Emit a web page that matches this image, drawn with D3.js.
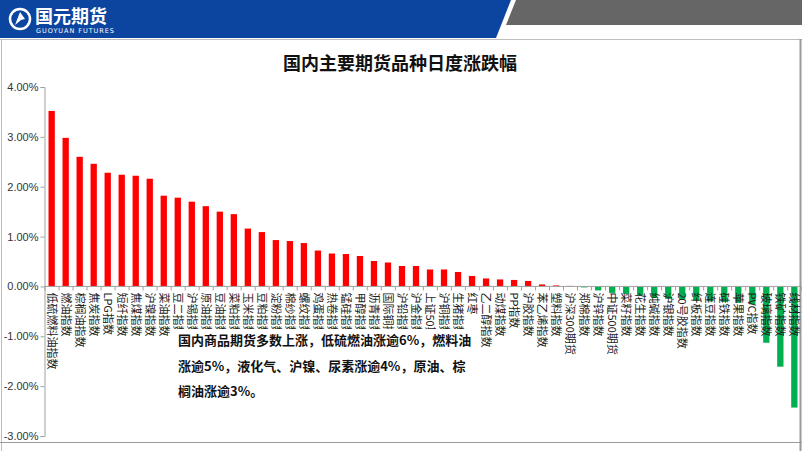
<!DOCTYPE html>
<html><head><meta charset="utf-8">
<script src="https://cdn.jsdelivr.net/npm/d3@7"></script>
<style>body{margin:0;background:#fff;}svg{display:block;}</style>
</head><body>
<script>
const categories = ["低硫燃料油指数","燃油指数","棕榈油指数","焦炭指数","LPG指数","短纤指数","焦煤指数","沪镍指数","菜油指数","豆二指数","沪锡指数","原油指数","豆油指数","菜粕指数","玉米指数","豆粕指数","淀粉指数","棉纱指数","螺纹指数","鸡蛋指数","热卷指数","锰硅指数","甲醇指数","沥青指数","国际铜指数","沪铅指数","沪金指数","上证50期货","沪铜指数","生猪指数","红枣","乙二醇指数","动煤指数","PP指数","沪胶指数","苯乙烯指数","塑料指数","沪深300期货","郑棉指数","沪锌指数","中证500期货","菜籽指数","花生指数","纯碱指数","沪银指数","20号胶指数","纤板指数","连豆指数","硅铁指数","苹果指数","PVC指数","玻璃指数","铁矿指数","线材指数"];
const values = [3.52,2.98,2.60,2.46,2.28,2.24,2.22,2.16,1.82,1.78,1.70,1.61,1.50,1.45,1.16,1.09,0.93,0.91,0.87,0.72,0.66,0.65,0.61,0.51,0.48,0.41,0.41,0.34,0.34,0.29,0.21,0.16,0.14,0.13,0.11,0.04,0.02,0.01,-0.02,-0.08,-0.13,-0.15,-0.18,-0.23,-0.25,-0.27,-0.29,-0.30,-0.31,-0.33,-0.36,-1.13,-1.61,-2.43];
const yTicks = [-3,-2,-1,0,1,2,3,4];
const title = "国内主要期货品种日度涨跌幅";
const noteLines = ["国内商品期货多数上涨，低硫燃油涨逾6%，燃料油","涨逾5%，液化气、沪镍、尿素涨逾4%，原油、棕","榈油涨逾3%。"];

const W=802,H=451;
const svg=d3.select("body").append("svg").attr("width",W).attr("height",H);
const font="'Noto Sans CJK SC','Noto Sans',sans-serif";

// header
svg.append("path").attr("d","M0,0 L511,0 L496,38 L0,38 Z").attr("fill","#0B45A0");
svg.append("path").attr("d","M516,0 L802,0 L802,25 L506,25 Z").attr("fill","#666666");
svg.append("line").attr("x1",0).attr("x2",W).attr("y1",39.5).attr("y2",39.5).attr("stroke","#bdbdbd");
svg.append("line").attr("x1",1.5).attr("x2",1.5).attr("y1",39).attr("y2",H).attr("stroke","#bdbdbd");
svg.append("line").attr("x1",800.5).attr("x2",800.5).attr("y1",39).attr("y2",H).attr("stroke","#9a9a9a").attr("stroke-width",2);
svg.append("line").attr("x1",0).attr("x2",W).attr("y1",442.5).attr("y2",442.5).attr("stroke","#9a9a9a");
// logo
const lg=svg.append("g");
lg.append("circle").attr("cx",20).attr("cy",19).attr("r",10).attr("fill","none").attr("stroke","#fff").attr("stroke-width",2.5);
lg.append("path").attr("d","M15,25 L20,12 L25,19 L21,20 Z").attr("fill","#fff");
lg.append("text").attr("x",35).attr("y",22.5).attr("fill","#fff").attr("font-family",font).attr("font-weight","bold").attr("font-size",18).text("国元期货");
lg.append("text").attr("x",36).attr("y",33).attr("fill","#fff").attr("font-family","'DejaVu Sans',sans-serif").attr("font-size",6.5).attr("textLength",78).text("GUOYUAN FUTURES");

svg.append("text").attr("x",400).attr("y",70).attr("text-anchor","middle").attr("font-family",font).attr("font-weight","bold").attr("font-size",18).attr("fill","#111").text(title);

const x=d3.scaleBand().domain(categories).range([45,801]).paddingInner(0.55).paddingOuter(0.25);
const y=d3.scaleLinear().domain([-3,4]).range([436,87]);

// y axis
const ya=svg.append("g").attr("transform","translate(44.5,0)")
  .call(d3.axisLeft(y).tickValues(yTicks).tickSize(4).tickFormat(d=>d.toFixed(2)+"%"));
ya.select(".domain").attr("stroke","#a0a0a0");
ya.selectAll(".tick line").attr("stroke","#a0a0a0");
ya.selectAll("text").attr("font-family","'Liberation Sans',Arial,sans-serif").attr("font-size",11).attr("fill","#333").attr("x",-6);

// bars
svg.append("g").selectAll("rect").data(values).join("rect")
  .attr("x",(d,i)=>x(categories[i]))
  .attr("width",x.bandwidth())
  .attr("y",d=>y(Math.max(0,d)))
  .attr("height",d=>Math.abs(y(d)-y(0)))
  .attr("fill",d=>d>=0?"#FF0000":"#00B050");

// x axis
const step=x.step();
const xa=svg.append("g").attr("transform",`translate(0,${y(0)})`);
xa.append("line").attr("x1",44).attr("x2",800).attr("stroke","#a0a0a0");
xa.selectAll("line.t").data(d3.range(categories.length+1)).join("line").attr("class","t")
  .attr("x1",i=>45+i*step).attr("x2",i=>45+i*step).attr("y1",0).attr("y2",4).attr("stroke","#a0a0a0");
xa.selectAll("text").data(categories).join("text")
  .attr("transform",d=>`translate(${x(d)+x.bandwidth()/2-4},6) rotate(90)`)
  .attr("font-family",font).attr("font-size",11).attr("fill","#222")
  .text(d=>d);

// note box
svg.append("rect").attr("x",170).attr("y",329).attr("width",298).attr("height",76).attr("fill","#fff");
svg.append("g").selectAll("text").data(noteLines).join("text")
  .attr("x",178).attr("y",(d,i)=>345+i*25.5)
  .attr("font-family",font).attr("font-weight","bold").attr("font-size",13).attr("fill","#111")
  .text(d=>d);
</script>
</body></html>
